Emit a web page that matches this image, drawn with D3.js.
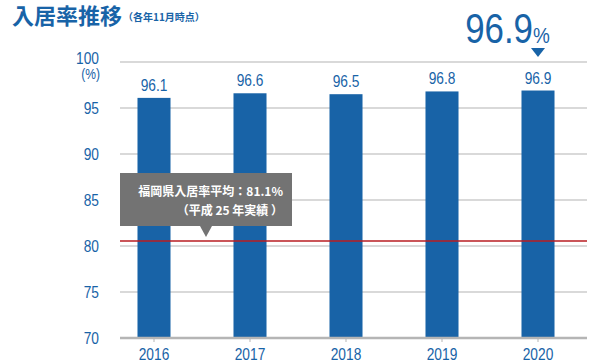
<!DOCTYPE html>
<html>
<head>
<meta charset="utf-8">
<script src="https://cdn.jsdelivr.net/npm/d3@7"></script>
<style>
body { margin: 0; background: #fff; }
text { font-family: "Liberation Sans", Arial, sans-serif; }
.jp { font-family: "Noto Sans CJK JP", sans-serif; }
</style>
</head>
<body>
<svg width="616" height="364"></svg>
<script>
var years = ["2016", "2017", "2018", "2019", "2020"];
var rates = [96.1, 96.6, 96.5, 96.8, 96.9];
var yTicks = [70, 75, 80, 85, 90, 95, 100];
var avgLine = 80.55;
var avgText = ["福岡県入居率平均：81.1%", "（平成 25 年実績 ）"];
var latest = "96.9";

var blue = "#1863a7";
var narrow = 0.86;

var svg = d3.select("svg");

var x = d3.scaleBand().domain(years).range([106, 586]).paddingInner(0.656).paddingOuter(0.328),
    y = d3.scaleLinear().domain([70, 100]).range([338, 62]);

function pos(px, py, s) {
  return "translate(" + px + "," + py + ") scale(" + (s || narrow) + ",1)";
}

// title
svg.append("text")
    .attr("class", "jp")
    .attr("x", 12).attr("y", 24)
    .attr("fill", blue)
    .style("font-size", "22px").style("font-weight", "bold")
    .text("入居率推移");
svg.append("text")
    .attr("class", "jp")
    .attr("x", 123).attr("y", 21)
    .attr("fill", blue)
    .style("font-size", "10px").style("font-weight", "bold")
    .text("（各年11月時点）");

// gridlines
svg.selectAll(".grid")
  .data(yTicks.slice(1))
  .enter().append("line")
    .attr("class", "grid")
    .attr("x1", 120).attr("x2", 587)
    .attr("y1", function(d) { return y(d); })
    .attr("y2", function(d) { return y(d); })
    .attr("stroke", "#d9d9d9")
    .attr("stroke-width", 2);

// y labels
svg.selectAll(".ylab")
  .data(yTicks)
  .enter().append("text")
    .attr("class", "ylab")
    .attr("transform", function(d) { return pos(99, y(d) + 6 + (d === 100 ? -4 : 0)); })
    .attr("text-anchor", "end")
    .attr("fill", blue)
    .style("font-size", "16px")
    .text(function(d) { return d; });
svg.append("text")
    .attr("transform", pos(100, y(100) + 17))
    .attr("text-anchor", "end")
    .attr("fill", blue)
    .style("font-size", "14px")
    .text("(%)");

// bars
svg.selectAll(".bar")
  .data(rates)
  .enter().append("rect")
    .attr("class", "bar")
    .attr("x", function(d, i) { return x(years[i]); })
    .attr("y", function(d) { return y(d); })
    .attr("width", x.bandwidth())
    .attr("height", function(d) { return y(70) - y(d); })
    .attr("fill", blue);

svg.selectAll(".val")
  .data(rates)
  .enter().append("text")
    .attr("class", "val")
    .attr("transform", function(d, i) { return pos(x(years[i]) + x.bandwidth() / 2, y(d) - 7); })
    .attr("text-anchor", "middle")
    .attr("fill", blue)
    .style("font-size", "16px")
    .text(function(d) { return d.toFixed(1); });

// bottom axis
var xAxis = svg.append("g")
    .attr("transform", "translate(0," + y(70) + ")")
    .call(d3.axisBottom(x).tickSize(4).tickFormat(""));
xAxis.select(".domain").remove();
xAxis.selectAll(".tick line").attr("stroke", "#b5b5b5");
svg.selectAll(".xlab")
  .data(years)
  .enter().append("text")
    .attr("class", "xlab")
    .attr("transform", function(d) { return pos(x(d) + x.bandwidth() / 2, y(70) + 22); })
    .attr("text-anchor", "middle")
    .attr("fill", blue)
    .style("font-size", "16px")
    .text(function(d) { return d; });
svg.append("line")
    .attr("x1", 120).attr("x2", 587)
    .attr("y1", y(70)).attr("y2", y(70))
    .attr("stroke", "#b5b5b5")
    .attr("stroke-width", 2.5);

// average line
svg.append("line")
    .attr("x1", 120).attr("x2", 587)
    .attr("y1", y(avgLine)).attr("y2", y(avgLine))
    .attr("stroke", "#b81c22")
    .attr("stroke-width", 1.5);

// callout
var box = svg.append("g");
box.append("rect")
    .attr("x", 120).attr("y", 173)
    .attr("width", 172).attr("height", 53)
    .attr("fill", "#737373");
box.append("path")
    .attr("d", "M200,226 L212,226 L206,237 Z")
    .attr("fill", "#737373");
box.selectAll("text")
  .data(avgText)
  .enter().append("text")
    .attr("class", "jp")
    .attr("x", 283)
    .attr("y", function(d, i) { return 196 + i * 19; })
    .attr("text-anchor", "end")
    .attr("fill", "#fff")
    .style("font-size", "12px").style("font-weight", "bold")
    .text(function(d) { return d; });

// latest highlight
var lx = x(years[years.length - 1]) + x.bandwidth() / 2;
svg.append("text")
    .attr("transform", pos(lx - 5, 43, 0.83))
    .attr("text-anchor", "end")
    .attr("fill", blue)
    .style("font-size", "42px")
    .text(latest);
svg.append("text")
    .attr("transform", pos(lx - 5, 43))
    .attr("fill", blue)
    .style("font-size", "22px")
    .text("%");
svg.append("path")
    .attr("d", "M" + (lx - 7) + ",48 L" + (lx + 7) + ",48 L" + lx + ",57 Z")
    .attr("fill", blue);
</script>
</body>
</html>
